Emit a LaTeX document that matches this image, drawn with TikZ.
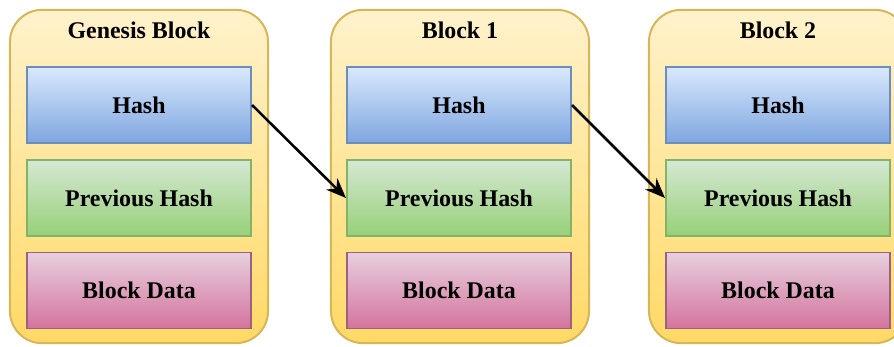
\documentclass[tikz,border=0pt]{standalone}
\usepackage{fontspec}
\setmainfont{Liberation Serif}
\usetikzlibrary{arrows.meta}

\definecolor{chaintop}{HTML}{FFF2CC}
\definecolor{chainbot}{HTML}{FFD966}
\definecolor{chainline}{HTML}{D6B656}
\definecolor{hashtop}{HTML}{DAE8FC}
\definecolor{hashbot}{HTML}{7EA6E0}
\definecolor{hashline}{HTML}{6C8EBF}
\definecolor{prevtop}{HTML}{D5E8D4}
\definecolor{prevbot}{HTML}{97D077}
\definecolor{prevline}{HTML}{82B366}
\definecolor{datatop}{HTML}{E6D0DE}
\definecolor{databot}{HTML}{D5739D}
\definecolor{dataline}{HTML}{996185}

\tikzset{
    chain/.style={draw=chainline, line width=1.4pt, rounded corners=0.8cm,
        top color=chaintop, bottom color=chainbot,
        minimum width=6.45cm, minimum height=8.33cm},
    hashbox/.style={draw=hashline, line width=1.4pt, top color=hashtop,
        bottom color=hashbot, minimum width=5.6cm, minimum height=1.9cm},
    prevbox/.style={draw=prevline, line width=1.4pt, top color=prevtop,
        bottom color=prevbot, minimum width=5.6cm, minimum height=1.9cm},
    databox/.style={draw=dataline, line width=1.4pt, top color=datatop,
        bottom color=databot, minimum width=5.6cm, minimum height=1.9cm},
    label/.style={font=\fontsize{17}{20}\selectfont\bfseries},
    link/.style={-{Stealth[length=5mm, width=4mm]}, line width=1.8pt}
}

\begin{document}
\begin{tikzpicture}[x=0.025cm, y=-0.025cm]

    \clip (0,0) rectangle (894,347);

    % the three blocks
    \node[chain] (b0) at (139,176.5) {};
    \node[chain] (b1) at (460,176.5) {};
    \node[chain] (b2) at (778,176.5) {};

    \node[label] (t0) at (139,30) {Genesis Block};
    \node[label] (t1) at (460,30) {Block 1};
    \node[label] (t2) at (778,30) {Block 2};

    \node[hashbox, label] (h0) at (139,105) {Hash};
    \node[prevbox, label] (p0) at (139,198) {Previous Hash};
    \node[databox, label] (d0) at (139,290.5) {Block Data};

    \node[hashbox, label] (h1) at (459,105) {Hash};
    \node[prevbox, label] (p1) at (459,198) {Previous Hash};
    \node[databox, label] (d1) at (459,290.5) {Block Data};

    \node[hashbox, label] (h2) at (778,105) {Hash};
    \node[prevbox, label] (p2) at (778,198) {Previous Hash};
    \node[databox, label] (d2) at (778,290.5) {Block Data};

    % hash links
    \draw[link] (h0.east) -- (p1.west);
    \draw[link] (h1.east) -- (p2.west);

\end{tikzpicture}
\end{document}
